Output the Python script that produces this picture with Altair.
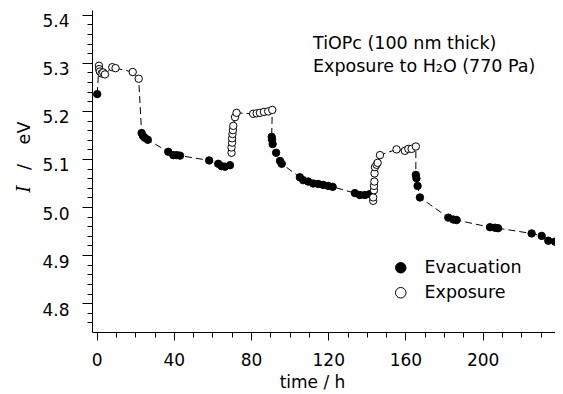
import altair as alt
import pandas as pd

# ---- data ----
time_h = [0.3,
          1.2, 1.3, 1.7, 2.6, 3.4, 4.3, 8.1, 9.8, 18.7, 21.8,
          23.3, 24.0, 25.0, 26.5, 37.1, 39.7, 41.5, 43.2, 58.3, 63.0, 64.8, 66.5, 69.1,
          69.9, 69.9, 70.2, 70.2, 70.4, 70.6, 70.8, 71.7, 72.5, 81.1, 82.9, 84.6, 86.7, 88.9, 91.0,
          90.7, 90.9, 91.2, 93.0, 95.0, 95.9, 105.3, 107.0, 109.6, 112.2, 114.8, 117.4, 120.0, 122.3,
          133.8, 136.4, 139.0, 141.6,
          143.3, 143.3, 143.7, 143.7, 143.9, 144.0, 144.2, 145.0, 145.6, 146.8, 155.4, 159.7, 161.5, 163.2, 165.4,
          165.4, 165.7, 166.3, 167.5, 182.2, 184.8, 186.5, 203.8, 206.4, 208.0, 225.4, 230.6, 234.0, 237.5]
energy_ev = [5.235,
             5.294, 5.287, 5.282, 5.278, 5.280, 5.276, 5.291, 5.289, 5.281, 5.267,
             5.154, 5.148, 5.144, 5.140, 5.115, 5.108, 5.108, 5.107, 5.097, 5.090, 5.085, 5.084, 5.087,
             5.113, 5.124, 5.134, 5.143, 5.152, 5.160, 5.169, 5.187, 5.196, 5.194, 5.195, 5.196, 5.198, 5.199, 5.202,
             5.146, 5.140, 5.131, 5.113, 5.096, 5.090, 5.062, 5.056, 5.053, 5.049, 5.048, 5.046, 5.044, 5.042,
             5.029, 5.025, 5.025, 5.027,
             5.013, 5.020, 5.035, 5.044, 5.053, 5.070, 5.083, 5.088, 5.092, 5.108, 5.120, 5.117, 5.121, 5.121, 5.126,
             5.067, 5.060, 5.044, 5.020, 4.978, 4.974, 4.973, 4.958, 4.957, 4.956, 4.945, 4.940, 4.930, 4.928]
phase_codes = ("E" + "X" * 10 + "E" * 13 + "X" * 15 + "E" * 18 + "X" * 15 + "E" * 14)
phase_names = {"E": "Evacuation", "X": "Exposure"}
phase = [phase_names[c] for c in phase_codes]

x_tick_values = list(range(0, 240, 10))
y_tick_values = [round(4.76 + 0.02 * i, 2) for i in range(33)]

notes = ["TiOPc (100 nm thick)", "Exposure to H\u2082O (770 Pa)"]

FONT = "DejaVu Sans"

df = pd.DataFrame({"t": time_h, "I": energy_ev, "phase": phase, "seq": list(range(len(time_h)))})

x_scale = alt.Scale(domain=[-2.4, 237.5], nice=False, zero=False)
y_scale = alt.Scale(domain=[4.74, 5.41], nice=False, zero=False)

x_axis = alt.Axis(
    values=x_tick_values, tickCount=500,
    labelExpr="datum.value % 40 === 0 ? format(datum.value, 'd') : ''",
    tickSize={"condition": {"test": "datum.value % 40 === 0", "value": 8}, "value": 5},
    labelPadding=12, labelFont=FONT, labelFontSize=17, labelOverlap=False, labelFlush=False,
    title="time / h", titleFont=FONT, titleFontSize=17, titleFontWeight="normal",
    titleX=220, titleY=42, titleAnchor="start", titleAlign="center", titleBaseline="top",
    grid=False, domainColor="black", tickColor="black", labelColor="black", titleColor="black",
)
y_test = "abs(datum.value*10 - round(datum.value*10)) < 0.001"
y_axis = alt.Axis(
    values=y_tick_values, tickCount=500,
    labelExpr=f"({y_test}) ? format(datum.value, '.1f') : ''",
    tickSize={"condition": {"test": y_test, "value": 10}, "value": 5},
    labelPadding=13, labelFont=FONT, labelFontSize=17, labelOverlap=False, labelFlush=False,
    labelBaseline="top", labelOffset=-1,
    title=None, grid=False, domainColor="black", tickColor="black", labelColor="black",
)

line = alt.Chart(df).mark_line(color="black", strokeDash=[7, 4], strokeWidth=1).encode(
    x=alt.X("t:Q", scale=x_scale, axis=x_axis),
    y=alt.Y("I:Q", scale=y_scale, axis=y_axis),
    order="seq:Q",
)

points = alt.Chart(df).mark_point(shape="circle", size=55, filled=True, stroke="black",
                                   strokeWidth=1, opacity=1).encode(
    x=alt.X("t:Q", scale=x_scale),
    y=alt.Y("I:Q", scale=y_scale),
    fill=alt.Fill("phase:N",
                  scale=alt.Scale(domain=["Evacuation", "Exposure"], range=["black", "white"]),
                  legend=alt.Legend(title=None, orient="none", legendX=300, legendY=249,
                                    symbolType="circle", symbolSize=110, symbolStrokeColor="black",
                                    symbolStrokeWidth=1, labelFont=FONT, labelFontSize=17.5,
                                    labelColor="black", labelOffset=15, rowPadding=6, padding=0)),
)

notes_df = pd.DataFrame({"txt": notes, "row": [0, 1]})
note1 = alt.Chart(notes_df).transform_filter("datum.row == 0").mark_text(
    align="left", baseline="middle", font=FONT, fontSize=17.5, color="black"
).encode(x=alt.value(221), y=alt.value(34), text="txt:N")
note2 = alt.Chart(notes_df).transform_filter("datum.row == 1").mark_text(
    align="left", baseline="middle", font=FONT, fontSize=17.5, color="black"
).encode(x=alt.value(221), y=alt.value(57), text="txt:N")

ytitle_df = pd.DataFrame({"part": ["I", "/", "eV"]})
yt_I = alt.Chart(ytitle_df).transform_filter("datum.part == 'I'").mark_text(
    angle=270, align="center", baseline="middle", font="DejaVu Serif", fontStyle="italic",
    fontSize=18, color="black"
).encode(x=alt.value(-67), y=alt.value(179), text="part:N")
yt_slash = alt.Chart(ytitle_df).transform_filter("datum.part == '/'").mark_text(
    angle=270, align="center", baseline="middle", font=FONT, fontSize=17.5, color="black"
).encode(x=alt.value(-67), y=alt.value(157), text="part:N")
yt_ev = alt.Chart(ytitle_df).transform_filter("datum.part == 'eV'").mark_text(
    angle=270, align="center", baseline="middle", font=FONT, fontSize=17.5, color="black"
).encode(x=alt.value(-67), y=alt.value(123), text="part:N")

chart = alt.layer(line, points, note1, note2, yt_I, yt_slash, yt_ev).properties(
    width=463, height=322,
    autosize=alt.AutoSizeParams(type="none"),
    padding={"left": 84, "top": 2, "right": 0, "bottom": 62},
).configure_view(stroke=None).configure_axis(domainWidth=1, tickWidth=1)

chart.save("out.html", embed_options={"renderer": "svg", "actions": False})
